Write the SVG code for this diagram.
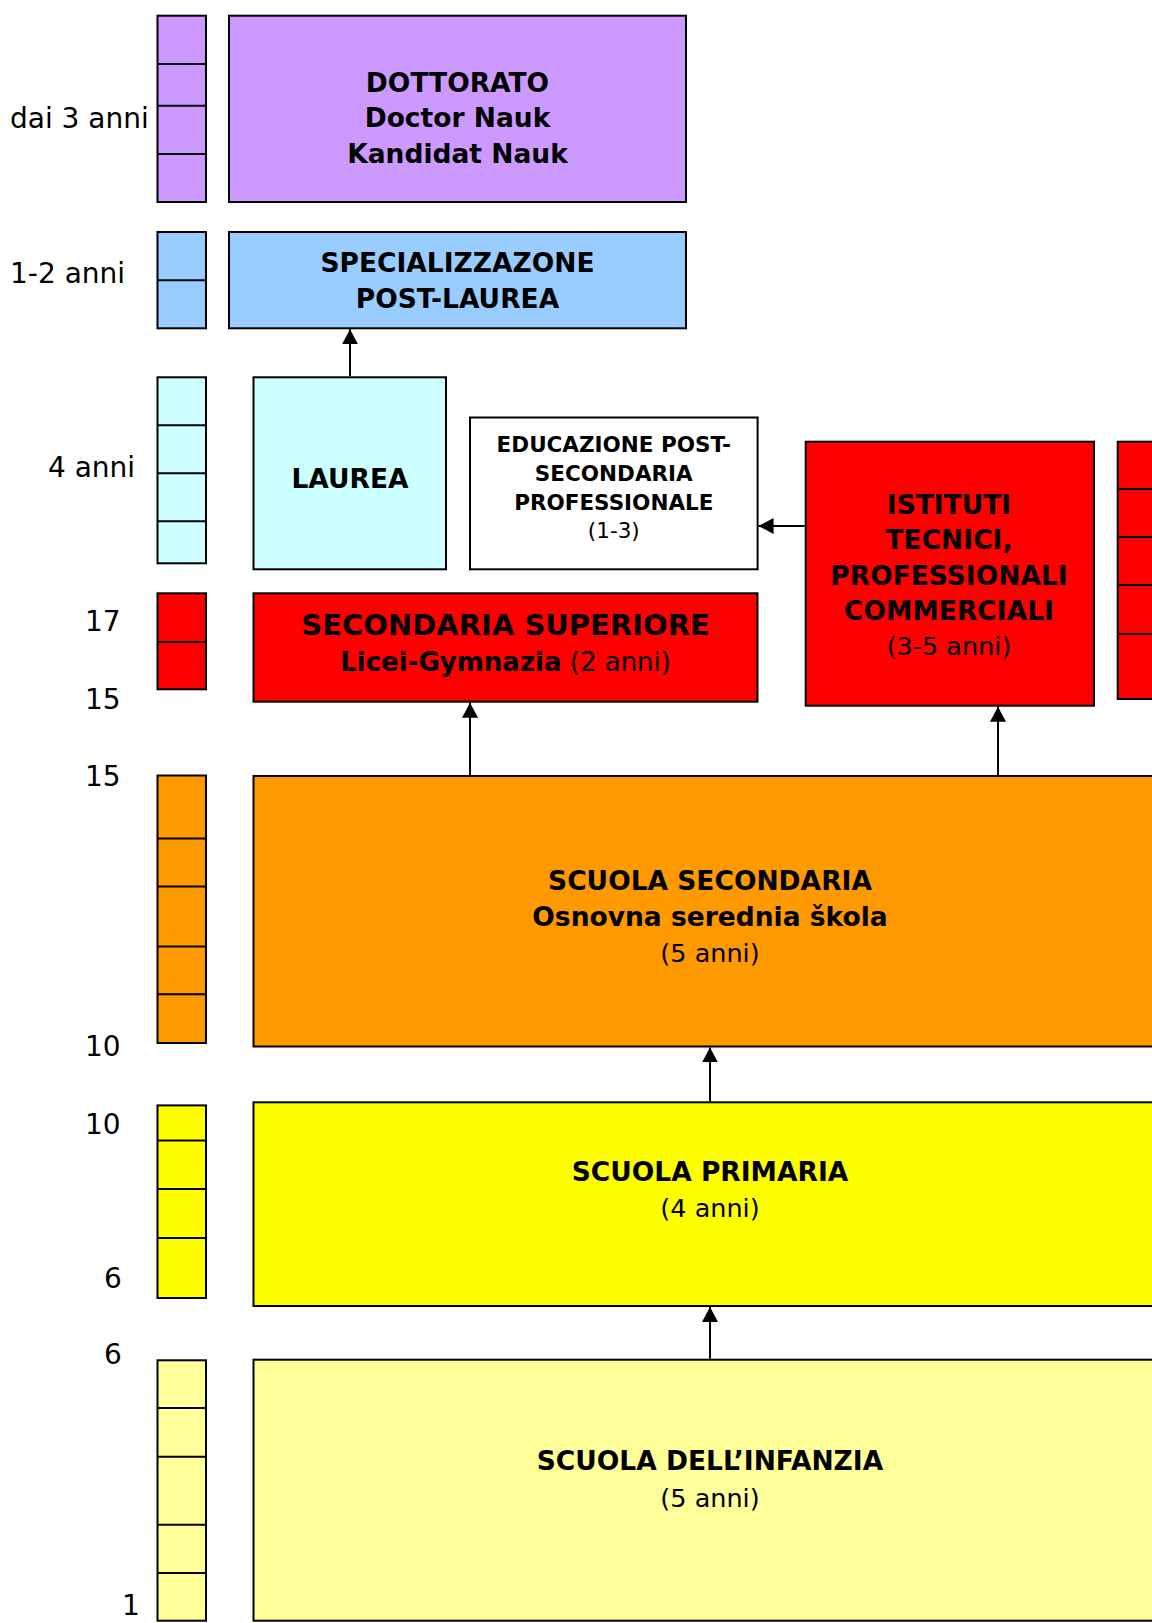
<svg xmlns="http://www.w3.org/2000/svg" width="1152" height="1623" viewBox="0 0 1152 1623">
<style>
text{font-family:"DejaVu Sans",Verdana,sans-serif;fill:#000}
.b{font-weight:bold;font-size:26.5px}
.r{font-size:25.5px}
.lab{font-size:28px}
.s{font-weight:bold;font-size:21.5px}
.sr{font-size:21.5px}
.box{stroke:#000;stroke-width:2}
.sep{stroke:#000;stroke-width:2}
.c{text-anchor:middle}
.conn line{stroke:#000;stroke-width:2}
</style>
<defs>
<marker id="ah" markerUnits="userSpaceOnUse" markerWidth="16" markerHeight="16" refX="14" refY="7.5" orient="auto" viewBox="0 0 15 15">
<path d="M0,0 L14,7.5 L0,15 z" fill="#000"/>
</marker>
</defs>
<rect width="1152" height="1623" fill="#fff"/>

<g id="scale-labels">
<text class="lab" x="10" y="128">dai 3 anni</text>
<text class="lab" x="10" y="283">1-2 anni</text>
<text class="lab" x="48" y="477">4 anni</text>
<text class="lab" x="85" y="630.5">17</text>
<text class="lab" x="85" y="709">15</text>
<text class="lab" x="85" y="786">15</text>
<text class="lab" x="85" y="1056">10</text>
<text class="lab" x="85" y="1133.5">10</text>
<text class="lab" x="104" y="1287.5">6</text>
<text class="lab" x="104" y="1364">6</text>
<text class="lab" x="122" y="1615">1</text>
</g>

<g id="bar-purple">
<rect class="box" x="157.5" y="15.7" width="48.5" height="186.3" fill="#CC99FF"/>
<path class="sep" d="M157.5,64H206M157.5,105.7H206M157.5,154H206"/>
</g>
<g id="bar-blue">
<rect class="box" x="157.5" y="232" width="48.5" height="96.3" fill="#99CCFF"/>
<path class="sep" d="M157.5,280.3H206"/>
</g>
<g id="bar-cyan">
<rect class="box" x="157.5" y="377.3" width="48.5" height="186" fill="#CCFFFF"/>
<path class="sep" d="M157.5,425.3H206M157.5,473.3H206M157.5,521.3H206"/>
</g>
<g id="bar-red">
<rect class="box" x="157.5" y="593.3" width="48.5" height="96" fill="#FF0000"/>
<path class="sep" d="M157.5,642H206"/>
</g>
<g id="bar-orange">
<rect class="box" x="157.5" y="775.5" width="48.5" height="267.5" fill="#FF9900"/>
<path class="sep" d="M157.5,838.5H206M157.5,886.4H206M157.5,946.4H206M157.5,994.3H206"/>
</g>
<g id="bar-yellow">
<rect class="box" x="157.5" y="1105.4" width="48.5" height="192.6" fill="#FFFF00"/>
<path class="sep" d="M157.5,1140.6H206M157.5,1189H206M157.5,1238H206"/>
</g>
<g id="bar-lightyellow">
<rect class="box" x="157.5" y="1360.3" width="48.5" height="260.4" fill="#FFFF99"/>
<path class="sep" d="M157.5,1408H206M157.5,1456.7H206M157.5,1524.7H206M157.5,1573H206"/>
</g>

<g id="dottorato">
<rect class="box" x="229" y="15.7" width="457" height="186.3" fill="#CC99FF"/>
<text class="b c" x="457.5" y="91.7">DOTTORATO</text>
<text class="b c" x="457.5" y="126.7">Doctor Nauk</text>
<text class="b c" x="457.5" y="162.7">Kandidat Nauk</text>
</g>
<g id="specializzazione">
<rect class="box" x="229" y="232" width="457" height="96.3" fill="#99CCFF"/>
<text class="b c" x="457.5" y="271.7">SPECIALIZZAZONE</text>
<text class="b c" x="457.5" y="308.3">POST-LAUREA</text>
</g>
<g id="laurea">
<rect class="box" x="253.5" y="377.3" width="192.5" height="192" fill="#CCFFFF"/>
<text class="b c" x="350" y="487.5">LAUREA</text>
</g>
<g id="educazione">
<rect class="box" x="470" y="417.5" width="287.6" height="151.8" fill="#FFFFFF"/>
<text class="s c" x="613.8" y="451.7">EDUCAZIONE POST-</text>
<text class="s c" x="613.8" y="480.7">SECONDARIA</text>
<text class="s c" x="613.8" y="510">PROFESSIONALE</text>
<text class="sr c" x="613.8" y="538.3">(1-3)</text>
</g>
<g id="istituti">
<rect class="box" x="805.7" y="441.7" width="288.3" height="264" fill="#FF0000"/>
<text class="b c" x="949" y="514.3">ISTITUTI</text>
<text class="b c" x="949" y="548.7">TECNICI,</text>
<text class="b c" x="949" y="585">PROFESSIONALI</text>
<text class="b c" x="949" y="620">COMMERCIALI</text>
<text class="r c" x="949" y="655">(3-5 anni)</text>
</g>
<g id="red-right">
<rect class="box" x="1117.7" y="441.7" width="60" height="257.3" fill="#FF0000"/>
<path class="sep" d="M1117.7,489H1160M1117.7,537H1160M1117.7,585H1160M1117.7,634H1160"/>
</g>
<g id="secondaria-superiore">
<rect class="box" x="253.5" y="593.3" width="504" height="108.4" fill="#FF0000"/>
<text class="c" x="505.6" y="635" style="font-weight:bold;font-size:29px">SECONDARIA SUPERIORE</text>
<text class="c" x="505.6" y="670.7" style="font-size:26px"><tspan font-weight="bold">Licei-Gymnazia</tspan> (2 anni)</text>
</g>
<g id="scuola-secondaria">
<rect class="box" x="253.5" y="776" width="920" height="270.5" fill="#FF9900"/>
<text class="b c" x="710" y="890">SCUOLA SECONDARIA</text>
<text class="b c" x="710" y="925.7">Osnovna serednia škola</text>
<text class="r c" x="710" y="961.7">(5 anni)</text>
</g>
<g id="scuola-primaria">
<rect class="box" x="253.5" y="1102.3" width="920" height="203.7" fill="#FFFF00"/>
<text class="b c" x="710" y="1180.7">SCUOLA PRIMARIA</text>
<text class="r c" x="710" y="1216.7">(4 anni)</text>
</g>
<g id="scuola-infanzia">
<rect class="box" x="253.5" y="1359.7" width="920" height="261" fill="#FFFF99"/>
<text class="b c" x="710" y="1470">SCUOLA DELL’INFANZIA</text>
<text class="r c" x="710" y="1506.7">(5 anni)</text>
</g>

<g id="connectors" class="conn">
<line x1="350" y1="376.3" x2="350" y2="329.3" marker-end="url(#ah)"/>
<line x1="804.7" y1="526" x2="758.6" y2="526" marker-end="url(#ah)"/>
<line x1="470" y1="775" x2="470" y2="702.7" marker-end="url(#ah)"/>
<line x1="998" y1="775" x2="998" y2="706.7" marker-end="url(#ah)"/>
<line x1="710" y1="1101.3" x2="710" y2="1047.5" marker-end="url(#ah)"/>
<line x1="710" y1="1358.7" x2="710" y2="1307" marker-end="url(#ah)"/>
</g>
</svg>
